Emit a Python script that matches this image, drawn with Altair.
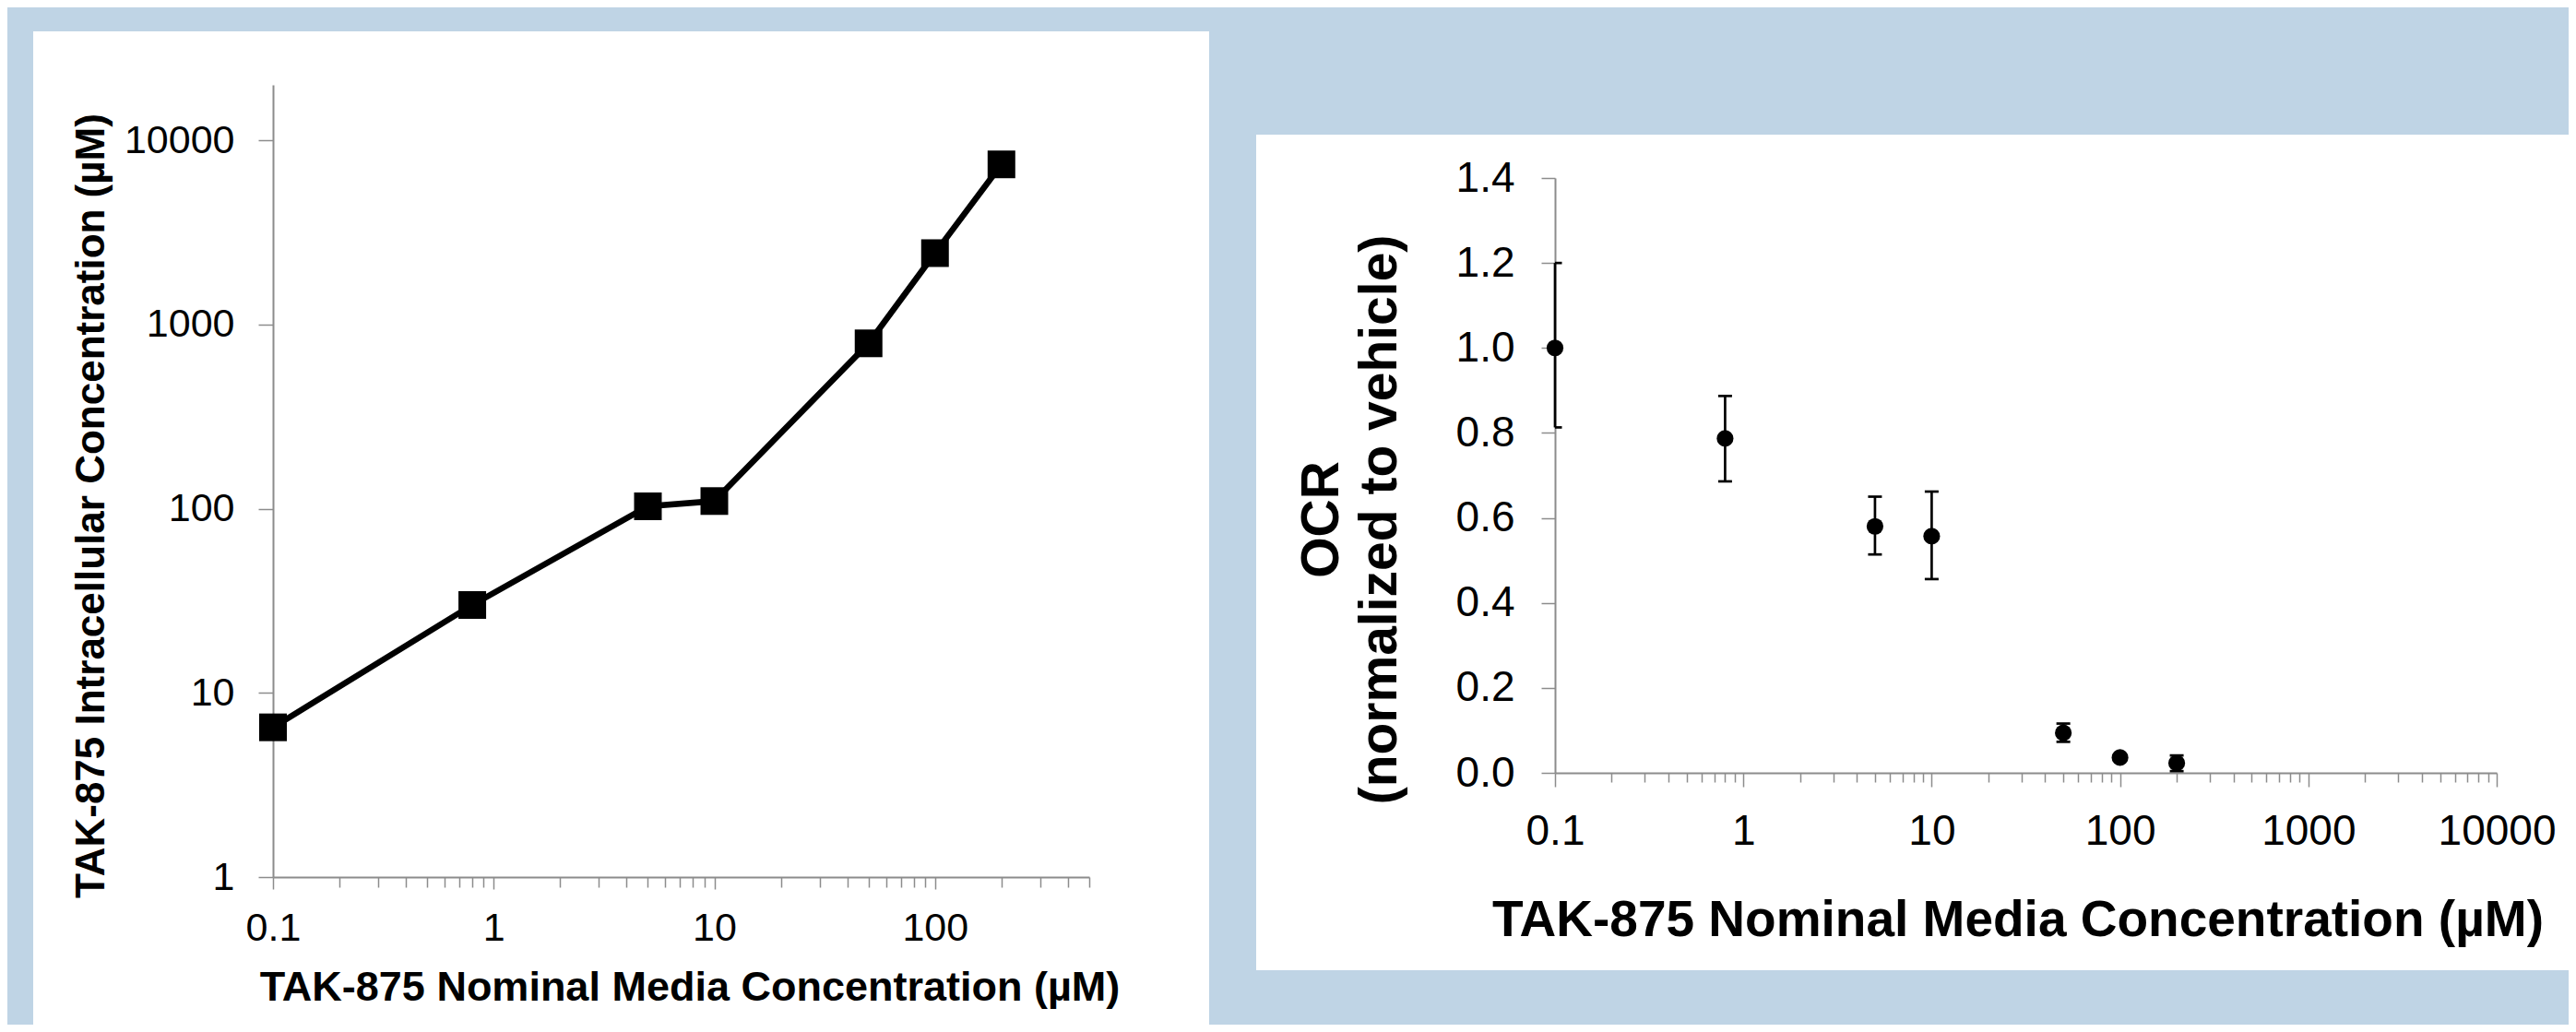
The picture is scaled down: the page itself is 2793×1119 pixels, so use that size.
import altair as alt
import pandas as pd

# ---------------- data ----------------
media_conc = [0.1, 0.8, 5, 10, 50, 100, 200]
intracellular_conc = [6.5, 30, 103, 110, 790, 2440, 7400]

ocr_mean = [1.0, 0.787, 0.580, 0.557, 0.094, 0.036, 0.023]
ocr_high = [1.200, 0.887, 0.650, 0.662, 0.116, 0.040, 0.041]
ocr_low = [0.813, 0.686, 0.514, 0.456, 0.073, 0.032, 0.004]

left_x_ticks = [0.1, 0.2, 0.3, 0.4, 0.5, 0.6, 0.7, 0.8, 0.9,
                1, 2, 3, 4, 5, 6, 7, 8, 9,
                10, 20, 30, 40, 50, 60, 70, 80, 90,
                100, 200, 300, 400, 500]
left_y_ticks = [1, 10, 100, 1000, 10000]
right_x_ticks = [0.1, 0.2, 0.3, 0.4, 0.5, 0.6, 0.7, 0.8, 0.9,
                 1, 2, 3, 4, 5, 6, 7, 8, 9,
                 10, 20, 30, 40, 50, 60, 70, 80, 90,
                 100, 200, 300, 400, 500, 600, 700, 800, 900,
                 1000, 2000, 3000, 4000, 5000, 6000, 7000, 8000, 9000,
                 10000]
right_y_ticks = [0, 0.2, 0.4, 0.6, 0.8, 1.0, 1.2, 1.4]

x_title = "TAK-875 Nominal Media Concentration (µM)"
left_y_title = "TAK-875 Intracellular Concentration (µM)"
right_y_title = ["OCR", "(normalized to vehicle)"]

left_df = pd.DataFrame({"conc": media_conc, "intra": intracellular_conc})
right_df = pd.DataFrame({"conc": media_conc, "ocr": ocr_mean,
                         "hi": ocr_high, "lo": ocr_low})
one = pd.DataFrame({"k": [0]})

# ---------------- style ----------------
FONT = "Liberation Sans"
BLUE = "#BFD4E5"
GRAY = "#8C8C8C"
MAJOR = "abs(log(datum.value)/LN10 - round(log(datum.value)/LN10)) < 0.001"
LABEL_EXPR = MAJOR + " ? format(datum.value, '~g') : ''"


def band(x0, x1, y0, y1):
    return alt.Chart(one).mark_rect(color=BLUE).encode(
        x=alt.value(x0), x2=alt.value(x1), y=alt.value(y0), y2=alt.value(y1))


common_axis = dict(grid=False, domainColor=GRAY, domainWidth=2,
                   tickColor=GRAY, tickWidth=1.5,
                   labelFont=FONT, labelColor="black",
                   titleFont=FONT, titleColor="black", titleFontWeight="bold",
                   titleAlign="center", titleBaseline="alphabetic",
                   labelOverlap=False)

# ---------------- left panel ----------------
LW, LH = 885, 859
lx = alt.X("conc:Q",
           scale=alt.Scale(type="log", domain=[0.1, 500], nice=False),
           axis=alt.Axis(values=left_x_ticks,
                         tickSize={"condition": {"test": MAJOR, "value": 13}, "value": 11},
                         labelExpr=LABEL_EXPR, labelFontSize=43,
                         labelBaseline="alphabetic", labelPadding=55,
                         labelFlush=False,
                         title=x_title, titleFontSize=45,
                         titleX=451.5, titleY=133, **common_axis))
ly = alt.Y("intra:Q",
           scale=alt.Scale(type="log", domain=[1, 20000], nice=False),
           axis=alt.Axis(values=left_y_ticks, format="~g", tickSize=16,
                         labelPadding=26, labelFontSize=43,
                         title=left_y_title, titleFontSize=44,
                         titleX=-184, titleY=456, **common_axis))

left_base = alt.Chart(left_df).encode(x=lx, y=ly)
left_line = left_base.mark_line(color="black", strokeWidth=6.5)
left_pts = left_base.mark_square(color="black", size=900, opacity=1)

left = alt.layer(
    band(-288, -260, -84, 1019),
    band(-288, 2489, -84, -58),
    band(1015, 1066, -84, 1019),
    left_line, left_pts,
).properties(width=LW, height=LH)

# ---------------- right panel ----------------
RW, RH = 1021, 645
rx = alt.X("conc:Q",
           scale=alt.Scale(type="log", domain=[0.1, 10000], nice=False),
           axis=alt.Axis(values=right_x_ticks,
                         tickSize={"condition": {"test": MAJOR, "value": 15}, "value": 10},
                         labelExpr=LABEL_EXPR, labelFontSize=46,
                         labelBaseline="alphabetic", labelPadding=62,
                         labelFlush=False,
                         title=x_title, titleFontSize=55,
                         titleX=501.5, titleY=176, **common_axis))
ry = alt.Y("ocr:Q",
           scale=alt.Scale(domain=[0, 1.4], nice=False, zero=False),
           axis=alt.Axis(values=right_y_ticks, format=".1f", tickSize=15,
                         labelPadding=29, labelFontSize=46,
                         title=right_y_title, titleFontSize=57,
                         titleLineHeight=63,
                         titleX=-236, titleY=370, **common_axis))

r_err = alt.Chart(right_df).mark_rule(color="black", strokeWidth=2.7).encode(
    x=rx, y=alt.Y("lo:Q", scale=alt.Scale(domain=[0, 1.4], nice=False, zero=False)),
    y2="hi:Q")
r_cap_hi = alt.Chart(right_df).mark_tick(
    color="black", orient="horizontal", size=15, thickness=2.7, clip=True, opacity=1
).encode(x=rx, y="hi:Q")
r_cap_lo = alt.Chart(right_df).mark_tick(
    color="black", orient="horizontal", size=15, thickness=2.7, clip=True, opacity=1
).encode(x=rx, y="lo:Q")
r_pts = alt.Chart(right_df).mark_circle(color="black", size=330, opacity=1).encode(
    x=rx, y=ry)

right = alt.layer(
    band(-375, 1099, -185, -47),
    band(-375, 1099, 859, 918),
    r_err, r_cap_hi, r_cap_lo, r_pts,
).properties(width=RW, height=RH)

spacer = alt.Chart(one).mark_point(opacity=0).encode(
    x=alt.value(0), y=alt.value(0)).properties(width=1, height=101)

right_col = alt.VConcatChart(vconcat=[spacer, right], spacing=0, bounds="flush")

chart = alt.HConcatChart(
    hconcat=[left, right_col], spacing=505, bounds="flush",
    padding=0, background="white",
).configure_view(stroke=None)

chart.save("out.html", embed_options={"renderer": "svg", "actions": False})
